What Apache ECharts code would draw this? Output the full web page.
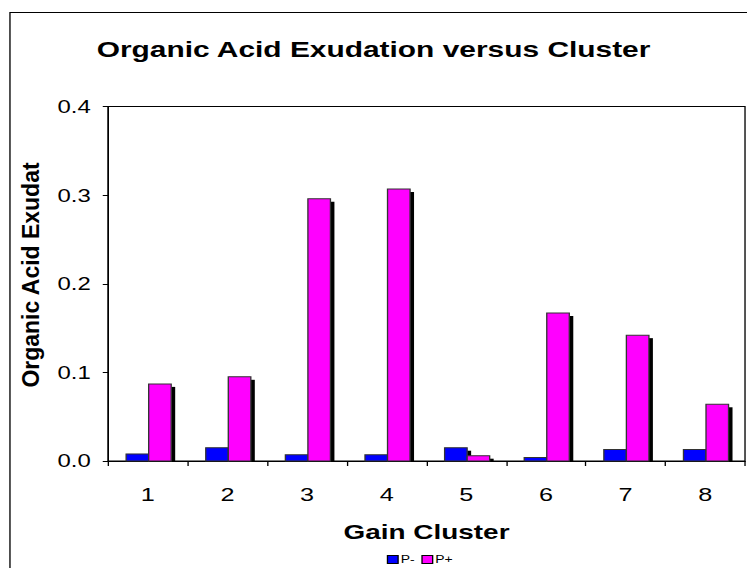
<!DOCTYPE html>
<html>
<head>
<meta charset="utf-8">
<script src="https://cdn.jsdelivr.net/npm/echarts@6/dist/echarts.min.js"></script>
<style>
  html, body { margin: 0; padding: 0; background: #fff; overflow: hidden; }
  /* The chart is laid out 562px wide and widened to the 747px page,
     which gives the wide, flat lettering of the original worksheet chart. */
  #chart { width: 562px; height: 568px; transform: scaleX(1.3292); transform-origin: 0 0; }
</style>
</head>
<body>
<div id="chart"></div>
<script>
// Gain clusters along the x axis
const clusters = ['1', '2', '3', '4', '5', '6', '7', '8'];
// Organic acid exudation without phosphorus (P-)
const pMinus = [0.008, 0.015, 0.007, 0.007, 0.015, 0.004, 0.013, 0.013];
// Organic acid exudation with phosphorus (P+)
const pPlus = [0.087, 0.095, 0.296, 0.307, 0.006, 0.167, 0.142, 0.064];
// Value axis ticks
const yTicks = [0.0, 0.1, 0.2, 0.3, 0.4];

const font = 'Liberation Sans, Arial, sans-serif';

const chart = echarts.init(document.getElementById('chart'), null, { renderer: 'svg' });

// Bars with the hard black drop shadow on their right side, clipped at the baseline.
function barRenderer(slot, color) {
  return function (params, api) {
    const band = api.size([1, 0])[0];
    const bw = band * 0.283;
    const base = api.coord([api.value(0), 0]);
    const top = api.coord([api.value(0), api.value(1)]);
    const x = base[0] - bw + slot * bw + band * 0.01;
    const h = base[1] - top[1];
    return {
      type: 'group',
      children: [
        {
          type: 'rect',
          shape: { x: x + bw, y: top[1] + 3, width: 3, height: Math.max(0, h - 3) },
          style: { fill: '#000' }
        },
        {
          type: 'rect',
          shape: { x: x, y: top[1], width: bw, height: h },
          style: { fill: color, stroke: '#333', lineWidth: 1 }
        }
      ]
    };
  };
}

function barSeries(name, values, slot, color) {
  return {
    name: name,
    type: 'custom',
    renderItem: barRenderer(slot, color),
    data: values.map((v, i) => [i, v]),
    encode: { x: 0, y: 1 },
    itemStyle: { color: color },
    silent: true
  };
}

chart.setOption({
  animation: false,
  backgroundColor: '#fff',
  title: {
    text: 'Organic Acid Exudation versus Cluster',
    left: 'center',
    top: 33,
    textStyle: { fontFamily: font, fontWeight: 'bold', fontSize: 22.5, color: '#000' }
  },
  graphic: [
    {
      type: 'rect',
      shape: { x: 7.5, y: 12.5, width: 800, height: 600 },
      style: { fill: null, stroke: '#000', lineWidth: 1 },
      silent: true
    },
    {
      // value axis title, narrowed across its height to undo the page widening
      type: 'text',
      x: 23.5,
      y: 275,
      rotation: Math.PI / 2,
      scaleY: 0.78,
      style: {
        text: 'Organic Acid Exudat',
        fontFamily: font,
        fontWeight: 'bold',
        fontSize: 23,
        fill: '#000',
        align: 'center',
        verticalAlign: 'middle'
      },
      silent: true
    }
  ],
  legend: {
    top: 549,
    left: 286,
    itemWidth: 8,
    itemHeight: 8,
    itemGap: 5,
    icon: 'rect',
    textStyle: { fontFamily: font, fontSize: 10.5, color: '#000', padding: [0, 0, 0, -3] },
    data: [
      { name: 'P-', itemStyle: { borderColor: '#000', borderWidth: 1 } },
      { name: 'P+', itemStyle: { borderColor: '#000', borderWidth: 1 } }
    ]
  },
  grid: {
    left: 81.3,
    right: 1.5,
    top: 106.5,
    bottom: 107,
    show: true,
    borderColor: '#000',
    borderWidth: 1,
    backgroundColor: 'transparent'
  },
  xAxis: {
    type: 'category',
    data: clusters,
    name: 'Gain Cluster',
    nameLocation: 'middle',
    nameGap: 60,
    nameTextStyle: { fontFamily: font, fontWeight: 'bold', fontSize: 21, color: '#000', verticalAlign: 'top' },
    axisLine: { lineStyle: { color: '#000', width: 1 } },
    axisTick: { show: true, length: 5, lineStyle: { color: '#000' } },
    axisLabel: { fontFamily: font, fontSize: 19, color: '#000', margin: 24 }
  },
  yAxis: {
    type: 'value',
    min: yTicks[0],
    max: yTicks[yTicks.length - 1],
    interval: 0.1,
    axisLine: { show: true, lineStyle: { color: '#000', width: 1 } },
    axisTick: { show: true, length: 4, lineStyle: { color: '#000' } },
    splitLine: { show: false },
    axisLabel: {
      fontFamily: font, fontSize: 18, color: '#000', margin: 13,
      formatter: v => v.toFixed(1)
    }
  },
  series: [
    barSeries('P-', pMinus, 0, '#0000ff'),
    barSeries('P+', pPlus, 1, '#ff00ff')
  ]
});
</script>
</body>
</html>
